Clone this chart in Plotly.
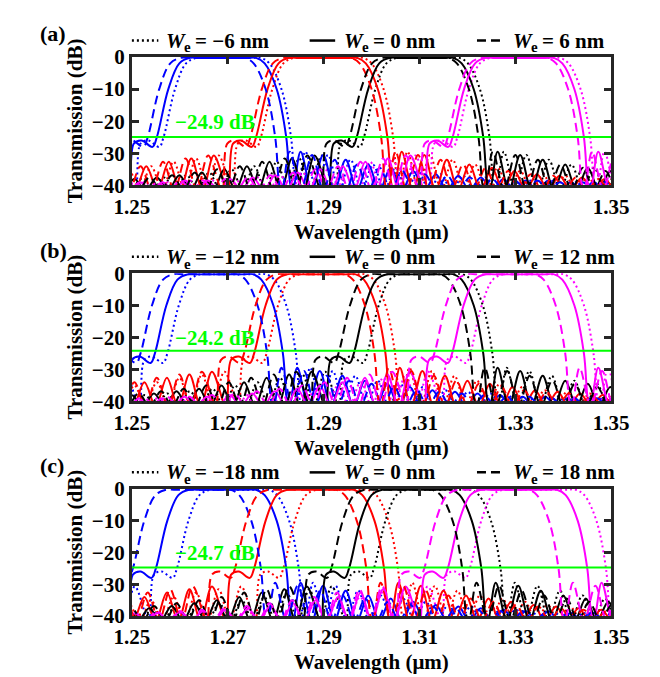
import plotly.graph_objects as go

# ---------------- data ----------------
CHANNELS = ['ch1', 'ch2', 'ch3', 'ch4']            # blue, red, black, magenta
CHANNEL_COLORS = ['#0000FF', '#FF0000', '#000000', '#FF00FF']
X_TICKS = [1.25, 1.27, 1.29, 1.31, 1.33, 1.35]
Y_TICKS = [0, -10, -20, -30, -40]
PANEL_LABELS = ['(a)', '(b)', '(c)']
WE_LABELS_A = ['\u22126', '0', '6']
WE_LABELS_B = ['\u221212', '0', '12']
WE_LABELS_C = ['\u221218', '0', '18']
GREEN_DB = [-24.9, -24.2, -24.7]
GREEN_TEXT = ['\u221224.9 dB', '\u221224.2 dB', '\u221224.7 dB']

# wavelength (um) where each passband crosses -10 dB, left and right edge,
# listed per channel [blue, red, black, magenta]
A_L10_DOT = [1.2590, 1.2793, 1.3008, 1.3203]
A_L10_SOLID = [1.2576, 1.2783, 1.2993, 1.3193]
A_L10_DASH = [1.2557, 1.2771, 1.2978, 1.3183]
A_R10_DOT = [1.2812, 1.3025, 1.3226, 1.3436]
A_R10_SOLID = [1.2802, 1.3013, 1.3213, 1.3423]
A_R10_DASH = [1.2779, 1.3000, 1.3203, 1.3410]

B_L10_DOT = [1.2598, 1.2805, 1.3015, 1.3230]
B_L10_SOLID = [1.2572, 1.2779, 1.2987, 1.3192]
B_L10_DASH = [1.2542, 1.2758, 1.2955, 1.3155]
B_R10_DOT = [1.2822, 1.3029, 1.3232, 1.3443]
B_R10_SOLID = [1.2795, 1.3009, 1.3213, 1.3423]
B_R10_DASH = [1.2762, 1.2986, 1.3186, 1.3384]

C_L10_DOT = [1.2618, 1.2840, 1.3029, 1.3229]
C_L10_SOLID = [1.2574, 1.2779, 1.2977, 1.3183]
C_L10_DASH = [1.2526, 1.2739, 1.2940, 1.3134]
C_R10_DOT = [1.2828, 1.3035, 1.3249, 1.3469]
C_R10_SOLID = [1.2802, 1.3006, 1.3209, 1.3430]
C_R10_DASH = [1.2749, 1.2969, 1.3169, 1.3370]

# passband shape (offset in nm from the -10 dB edge, dB)
MAIN_L_NM = [-8.3, -7.2, -5.6, -3.3, -2.4, 0.0, 2.3, 4.5, 6.5]
MAIN_L_DB = [-41.5, -27, -26, -28, -25, -10, -2, -0.3, -0.3]
MAIN_R_NM = [-6.3, -4.3, -2.5, 0.0, 2.0, 2.9, 3.4]
MAIN_R_DB = [-0.3, -0.3, -2, -10, -25, -40, -41.5]

# stop-band side lobes (peak / null alternating), offset from the edges, nm
SIDE_L_NM = [-11.2, -13.55, -15.9, -18.25, -20.6, -22.95, -25.3, -27.65, -30.0, -32.35,
             -34.7, -37.05, -39.4, -41.75, -44.1, -46.45, -48.8, -51.15, -53.5, -55.85,
             -58.2, -60.55, -62.9, -65.25, -67.6, -69.95, -72.3, -74.65, -77.0, -79.35]
SIDE_L_DB = [-30.7, -41.5, -31.6, -41.5, -32.6, -41.5, -34.0, -41.5, -35.0, -41.5,
             -36.0, -41.5, -36.8, -41.5, -37.5, -41.5, -38.0, -41.5, -38.5, -41.5,
             -38.5, -41.5, -39.0, -41.5, -39.0, -41.5, -39.2, -41.5, -39.5, -41.5]
SIDE_R_NM = [5.0, 7.35, 9.7, 12.05, 14.4, 16.75, 19.1, 21.45, 23.8, 26.15,
             28.5, 30.85, 33.2, 35.55, 37.9, 40.25, 42.6, 44.95, 47.3, 49.65,
             52.0, 54.35, 56.7, 59.05, 61.4, 63.75, 66.1, 68.45, 70.8, 73.15, 75.5, 77.85]
SIDE_R_DB = [-29.5, -41.5, -30.5, -41.5, -32.0, -41.5, -33.5, -41.5, -34.5, -41.5,
             -35.5, -41.5, -36.5, -41.5, -37.0, -41.5, -37.5, -41.5, -38.0, -41.5,
             -38.5, -41.5, -38.5, -41.5, -39.0, -41.5, -39.0, -41.5, -39.0, -41.5, -39.5, -41.5]

PANEL_EDGES = [
    [(A_L10_DOT, A_R10_DOT), (A_L10_SOLID, A_R10_SOLID), (A_L10_DASH, A_R10_DASH)],
    [(B_L10_DOT, B_R10_DOT), (B_L10_SOLID, B_R10_SOLID), (B_L10_DASH, B_R10_DASH)],
    [(C_L10_DOT, C_R10_DOT), (C_L10_SOLID, C_R10_SOLID), (C_L10_DASH, C_R10_DASH)],
]
PANEL_WE = [WE_LABELS_A, WE_LABELS_B, WE_LABELS_C]

# ---------------- layout constants (pixels) ----------------
W, H = 660, 677
PLOT_L, PLOT_R = 112, 619
TOPS = [38.3, 262.5, 486.0]
BOTS = [171.5, 395.5, 618.0]
FONT = 'Liberation Serif'
FRAME = '#262626'
DASHES = ['2px,3px', 'solid', '9px,5px']


def px(x):
    return x / W


def py(y):
    return 1 - y / H


def build_curve(l10, r10):
    xs, ys = [], []
    for d, v in zip(SIDE_L_NM[::-1], SIDE_L_DB[::-1]):
        xs.append(l10 + d / 1000.0); ys.append(v)
    for d, v in zip(MAIN_L_NM, MAIN_L_DB):
        xs.append(l10 + d / 1000.0); ys.append(v)
    for d, v in zip(MAIN_R_NM, MAIN_R_DB):
        xs.append(r10 + d / 1000.0); ys.append(v)
    for d, v in zip(SIDE_R_NM, SIDE_R_DB):
        xs.append(r10 + d / 1000.0); ys.append(v)
    return xs, ys


fig = go.Figure()
annotations = []
shapes = []
layout_axes = {}


def note(text, x, y, size=21, color='black', style='normal', xanchor='left', angle=0):
    annotations.append(dict(text=text, x=px(x), y=py(y), xref='paper', yref='paper',
                            xanchor=xanchor, yanchor='middle', showarrow=False,
                            textangle=angle,
                            font=dict(family=FONT, size=size, color=color,
                                      weight='bold', style=style)))


for p in range(3):
    sfx = '' if p == 0 else str(p + 1)
    xa, ya = 'x' + sfx, 'y' + sfx
    for s, (l_arr, r_arr) in enumerate(PANEL_EDGES[p]):
        for c in range(4):
            xs, ys = build_curve(l_arr[c], r_arr[c])
            fig.add_trace(go.Scatter(
                x=xs, y=ys, mode='lines', xaxis=xa, yaxis=ya, showlegend=False,
                line=dict(color=CHANNEL_COLORS[c], width=2, dash=DASHES[s],
                          shape='spline', smoothing=1.0),
                hoverinfo='skip'))
    # green threshold line
    fig.add_trace(go.Scatter(
        x=[X_TICKS[0], X_TICKS[-1]], y=[GREEN_DB[p], GREEN_DB[p]], mode='lines',
        xaxis=xa, yaxis=ya, showlegend=False,
        line=dict(color='#00FF00', width=2), hoverinfo='skip'))

    dom_y = [py(BOTS[p]), py(TOPS[p])]
    common = dict(showgrid=False, zeroline=False, showline=True, linewidth=3,
                  linecolor=FRAME, mirror='ticks', ticks='inside', ticklen=7,
                  tickwidth=2.5, tickcolor=FRAME,
                  tickfont=dict(family=FONT, size=21, color='black', weight='bold'))
    layout_axes['xaxis' + sfx] = dict(domain=[px(PLOT_L), px(PLOT_R)], range=[1.25, 1.35],
                                      tickvals=X_TICKS, tickformat='.2f', anchor=ya,
                                      ticklabelstandoff=0, **common)
    layout_axes['yaxis' + sfx] = dict(domain=dom_y, range=[-40, 0], tickvals=Y_TICKS,
                                      anchor=xa, **common)

    top, bot = TOPS[p], BOTS[p]
    note(PANEL_LABELS[p], 13, top - 24, size=22)
    note('Transmission (dB)', 52, (top + bot) / 2, xanchor='center', angle=-90)
    note('Wavelength (\u03bcm)', (PLOT_L + PLOT_R) / 2, bot + 48, xanchor='center')
    # green label (data coordinates)
    annotations.append(dict(text=GREEN_TEXT[p], x=1.2674, y=-20.2, xref=xa, yref=ya,
                            xanchor='center', yanchor='middle', showarrow=False,
                            font=dict(family=FONT, size=21, color='#00FF00', weight='bold')))
    # legend row
    ly = top - 17
    sample_x = [(112, 140), (300, 327), (477, 505)]
    text_x = [146, 334, 513]
    for s in range(3):
        shapes.append(dict(type='line', xref='paper', yref='paper',
                           x0=px(sample_x[s][0]), x1=px(sample_x[s][1]),
                           y0=py(ly), y1=py(ly),
                           line=dict(color='black', width=2.5, dash=DASHES[s])))
        note('W', text_x[s], ly, style='italic')
        note('e', text_x[s] + 19, ly + 7, size=15)
        note('= ' + PANEL_WE[p][s] + ' nm', text_x[s] + 31, ly)

fig.update_layout(width=W, height=H, margin=dict(l=0, r=0, t=0, b=0),
                  paper_bgcolor='white', plot_bgcolor='white',
                  annotations=annotations, shapes=shapes, **layout_axes)

fig.write_html('out.html')
